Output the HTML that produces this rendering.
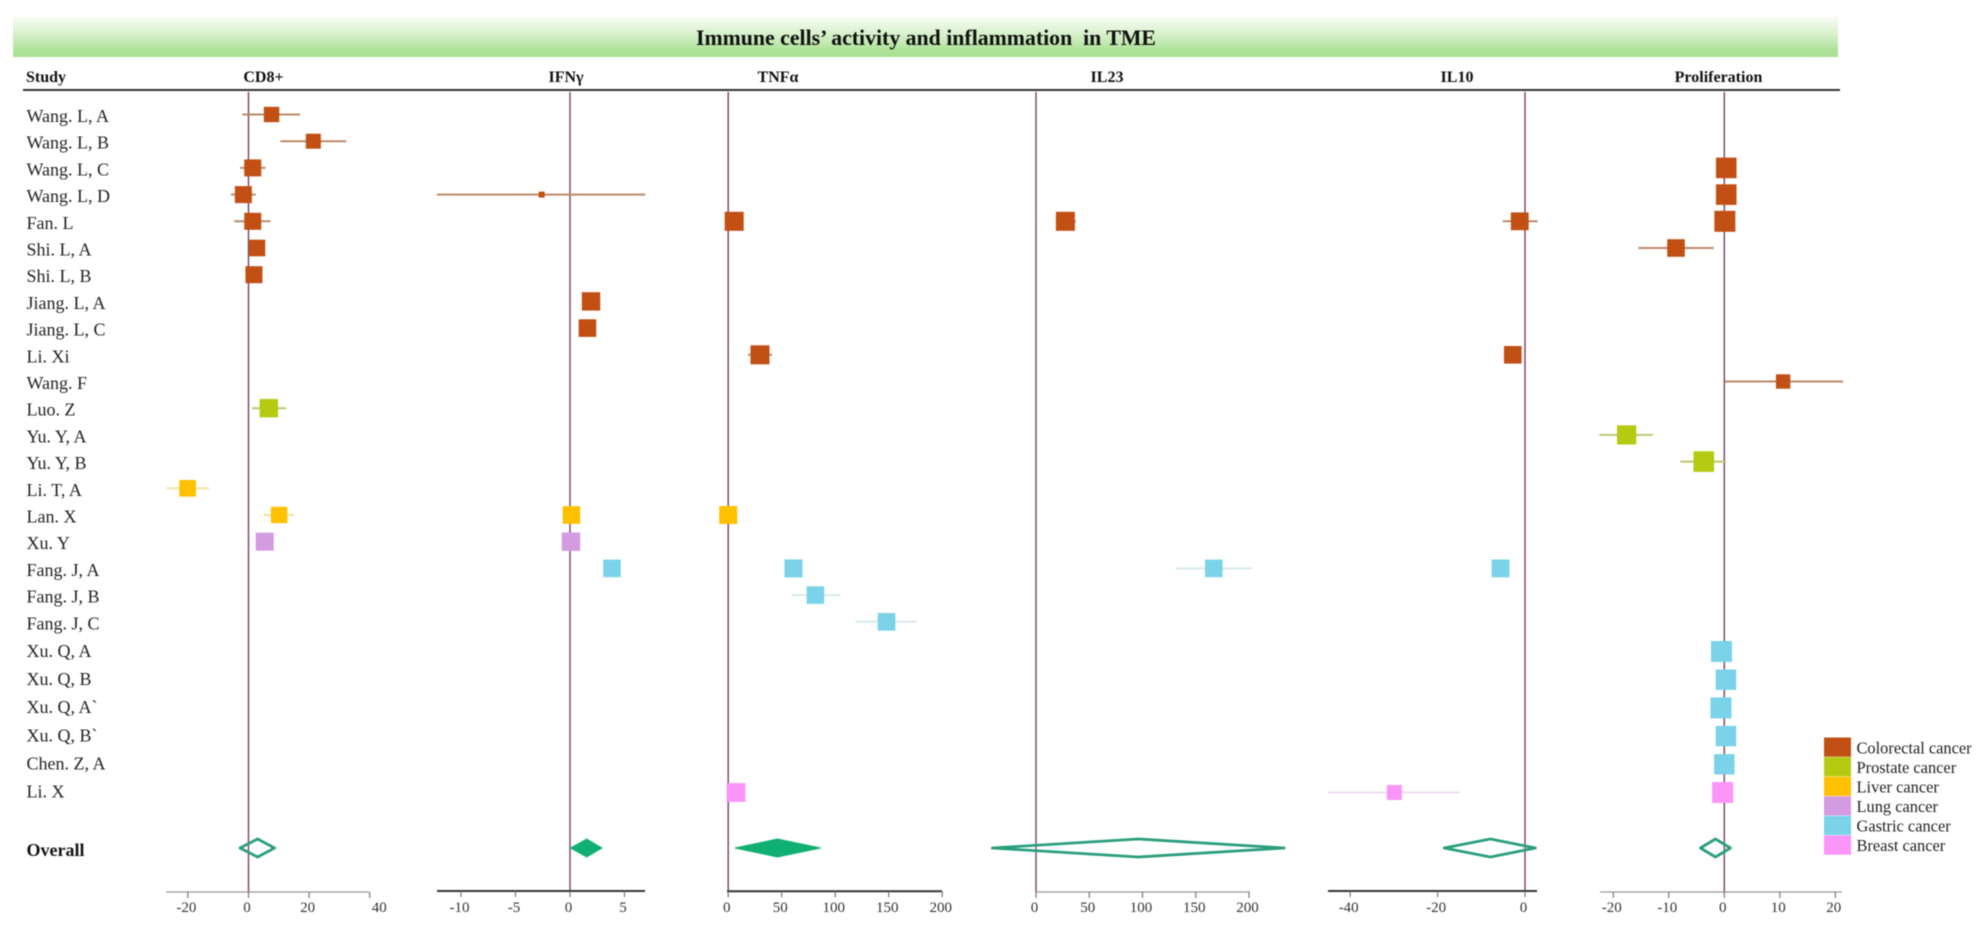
<!DOCTYPE html>
<html lang="en">
<head>
<meta charset="utf-8">
<title>Immune cells' activity and inflammation in TME</title>
<style>
html,body{margin:0;padding:0;background:#fff;}
body{width:1985px;height:928px;overflow:hidden;}
svg{display:block;filter:blur(0.45px);font-family:"Liberation Serif","Noto Serif CJK SC",serif;}
</style>
</head>
<body>
<svg id="chart" xmlns="http://www.w3.org/2000/svg" width="1985" height="928" viewBox="0 0 1985 928">
  <defs>
    <linearGradient id="bannerFill" x1="0" y1="0" x2="0" y2="1">
      <stop offset="0" stop-color="#f8fcf5"/>
      <stop offset="0.45" stop-color="#d6f0ca"/>
      <stop offset="0.85" stop-color="#ace296"/>
      <stop offset="1" stop-color="#a9e092"/>
    </linearGradient>
  </defs>
  <rect x="13" y="17" width="1825" height="40" fill="url(#bannerFill)"/>
  <text x="926" y="45" text-anchor="middle" font-size="21.8" font-weight="bold" fill="#111" xml:space="preserve">Immune cells’ activity and inflammation  in TME</text>
  <line x1="23" y1="90" x2="1840" y2="90" stroke="#333" stroke-width="2"/>
  <text x="26" y="82" font-size="16" font-weight="bold" fill="#111">Study</text>
  <text x="263.5" y="82" text-anchor="middle" font-size="16" font-weight="bold" fill="#111">CD8+</text>
  <text x="566" y="82" text-anchor="middle" font-size="16" font-weight="bold" fill="#111">IFNγ</text>
  <text x="778" y="82" text-anchor="middle" font-size="16" font-weight="bold" fill="#111">TNFα</text>
  <text x="1107" y="82" text-anchor="middle" font-size="16" font-weight="bold" fill="#111">IL23</text>
  <text x="1457" y="82" text-anchor="middle" font-size="16" font-weight="bold" fill="#111">IL10</text>
  <text x="1718.5" y="82" text-anchor="middle" font-size="16" font-weight="bold" fill="#111">Proliferation</text>
  <text x="26.5" y="856" font-size="18" font-weight="bold" fill="#111">Overall</text>
  <g id="rowLabels"></g>
  <g id="panels"></g>
  <g id="legend"></g>
</svg>
<script>
// ---------- Categories ----------
const studies = ["Wang. L, A","Wang. L, B","Wang. L, C","Wang. L, D","Fan. L","Shi. L, A","Shi. L, B","Jiang. L, A","Jiang. L, C","Li. Xi","Wang. F","Luo. Z","Yu. Y, A","Yu. Y, B","Li. T, A","Lan. X","Xu. Y","Fang. J, A","Fang. J, B","Fang. J, C","Xu. Q, A","Xu. Q, B","Xu. Q, A`","Xu. Q, B`","Chen. Z, A","Li. X"];
const cancerTypes = ["Colorectal cancer","Prostate cancer","Liver cancer","Lung cancer","Gastric cancer","Breast cancer"];
const studyCancer = [0,0,0,0,0,0,0,0,0,0,0,1,1,1,2,2,3,4,4,4,4,4,4,4,4,5];

// ---------- CD8+ ----------
const cd8Rows   = [0,1,2,3,4,5,6,11,14,15,16];
const cd8Mean   = [7.6,21.4,1.4,-1.7,1.4,2.8,1.8,6.7,-20.1,10.1,5.35];
const cd8Low    = [-2,10.5,-2.8,-5.8,-4.7,0.8,0,1.2,-27,4.9,3.5];
const cd8High   = [17,32.3,5.6,2.4,7.3,4.8,3.6,12.4,-13,15.2,7.2];
const cd8Weight = [7.7,7.5,8.5,8.5,8.5,8.3,8.5,9.2,8.3,8.2,9];
const cd8Ticks  = [-20,0,20,40];

// ---------- IFN-gamma ----------
const ifnRows   = [3,7,8,15,16,17];
const ifnMean   = [-2.6,1.93,1.6,0.13,0.09,3.85];
const ifnLow    = [-12.2,1.6,1.3,-0.2,-0.2,3.5];
const ifnHigh   = [6.9,2.3,1.9,0.5,0.4,4.2];
const ifnWeight = [3,9.2,8.8,8.8,9.2,8.8];
const ifnTicks  = [-10,-5,0,5];

// ---------- TNF-alpha ----------
const tnfRows   = [4,9,15,17,18,19,25];
const tnfMean   = [5.6,29.7,0,61,81.5,148,7.3];
const tnfLow    = [2,18.5,-3,57,59,119,4];
const tnfHigh   = [9,41,3,65,105,176,11];
const tnfWeight = [9.5,9.5,9,9,8.8,8.8,9.4];
const tnfTicks  = [0,50,100,150,200];

// ---------- IL23 ----------
const il23Rows   = [4,17];
const il23Mean   = [27.6,167];
const il23Low    = [18.5,131];
const il23High   = [37.5,203];
const il23Weight = [9.5,8.8];
const il23Ticks  = [0,50,100,150,200];

// ---------- IL10 ----------
const il10Rows   = [4,9,17,25];
const il10Mean   = [-1.2,-2.8,-5.6,-29.9];
const il10Low    = [-5.1,-3.5,-6.3,-45];
const il10High   = [2.9,-2.1,-4.9,-14.9];
const il10Weight = [8.9,8.8,8.9,7.5];
const il10Ticks  = [-40,-20,0];

// ---------- Proliferation ----------
const proRows   = [2,3,4,5,10,12,13,20,21,22,23,24,25];
const proMean   = [0.35,0.35,0.1,-8.7,10.6,-17.6,-3.7,-0.5,0.3,-0.6,0.3,0,-0.3];
const proLow    = [-0.5,-0.5,-0.7,-15.5,0.1,-22.5,-7.9,-1.2,-0.4,-1.3,-0.4,-0.7,-1];
const proHigh   = [1.2,1.2,0.9,-1.9,21.4,-12.9,0.3,0.2,1,0.1,1,0.7,0.4];
const proWeight = [10.3,10.3,10.5,8.8,7.2,9.6,10.3,10.5,10.2,10.5,10.2,10.2,10.5];
const proTicks  = [-20,-10,0,10,20];

// ---------- Pooled estimates (CD8+, IFNg, TNFa, IL23, IL10, Proliferation) ----------
const overallMean = [3,1.53,46,96,-7.9,-1.6];
const overallLow  = [-2.8,0.04,6.3,-41,-18.5,-4.3];
const overallHigh = [8.6,2.94,86.3,233,2.4,1.1];
const overallSignificant = [false,true,true,false,false,false];

// ---------- Layout & styles (not data) ----------
const cancerFill = {0:"#c24f14",1:"#b4cb12",2:"#ffc000",3:"#d49ce0",4:"#7ad3e8",5:"#fb95f8"};
const cancerWhisker = {0:"#bb8a68",1:"#bcc86a",2:"#f3e3a2",3:"#ecdcf0",4:"#d8eaee",5:"#f0dcf4"};
const panels = [
  {key:"cd8",  zero:248.5, scale:3.03,  left:166,  right:369,  axisY:892,   heavy:false, labelShift:{40:11}, rows:cd8Rows, mean:cd8Mean, low:cd8Low, high:cd8High, weight:cd8Weight, ticks:cd8Ticks},
  {key:"ifn",  zero:570,   scale:10.9,  left:437,  right:645,   axisY:891,   heavy:true,  labelShift:{}, rows:ifnRows, mean:ifnMean, low:ifnLow, high:ifnHigh, weight:ifnWeight, ticks:ifnTicks},
  {key:"tnf",  zero:728.2, scale:1.07,  left:727,  right:942,   axisY:891.3, heavy:true,  labelShift:{}, rows:tnfRows, mean:tnfMean, low:tnfLow, high:tnfHigh, weight:tnfWeight, ticks:tnfTicks},
  {key:"il23", zero:1036,  scale:1.065, left:1036, right:1250,  axisY:892,   heavy:false, labelShift:{}, rows:il23Rows, mean:il23Mean, low:il23Low, high:il23High, weight:il23Weight, ticks:il23Ticks},
  {key:"il10", zero:1525,  scale:4.37,  left:1328, right:1537,  axisY:891,   heavy:true,  labelShift:{}, rows:il10Rows, mean:il10Mean, low:il10Low, high:il10High, weight:il10Weight, ticks:il10Ticks},
  {key:"proliferation", zero:1724.3, scale:5.55, left:1600, right:1842, axisY:892, heavy:false, labelShift:{}, rows:proRows, mean:proMean, low:proLow, high:proHigh, weight:proWeight, ticks:proTicks}
];
const SVGNS = "http://www.w3.org/2000/svg";
const OVERALL_Y = 848;
function rowY(i){ return i < 20 ? 114.5 + 26.7 * i : 651.5 + 28.2 * (i - 20); }
function labelY(i){ return i < 20 ? 122 + 26.7 * i : 657 + 28.1 * (i - 20); }
function xAxis(p){ return function(v){ return p.zero + v * p.scale; }; }
function boxSize(w){ return w * 2; }
function make(tag, attrs, parent){
  const el = document.createElementNS(SVGNS, tag);
  for (const k in attrs) el.setAttribute(k, attrs[k]);
  parent.appendChild(el);
  return el;
}

// ---------- Study labels ----------
const rowLabelGroup = document.getElementById("rowLabels");
studies.forEach(function(name, i){
  const t = make("text", {x:26.5, y:labelY(i), "font-size":18, fill:"#222"}, rowLabelGroup);
  
  
  t.textContent = name;
});

// ---------- Panels ----------
const panelRoot = document.getElementById("panels");
panels.forEach(function(p, pi){
  const x = xAxis(p);
  const g = make("g", {}, panelRoot);
  
  

  const zeroLine = make("line", {x1:x(0), x2:x(0), y1:92, y2:p.axisY, stroke:"#7d3f5f", "stroke-width":1.4}, g);
  
  

  const axisColor = p.heavy ? "#333" : "#999";
  const axisWidth = p.heavy ? 2 : 1.2;
  const axis = make("line", {x1:p.left, x2:p.right, y1:p.axisY, y2:p.axisY, stroke:axisColor, "stroke-width":axisWidth}, g);
  
  

  p.ticks.forEach(function(v){
    const tick = make("line", {x1:x(v), x2:x(v), y1:p.axisY, y2:p.axisY + 6, stroke:"#777", "stroke-width":1.2}, g);
    
    
    const shift = p.labelShift[v] || 0;
    const lab = make("text", {x:x(v) - 1.5 + shift, y:912, "text-anchor":"middle", "font-size":15, fill:"#333"}, g);
    
    
    lab.textContent = String(v);
  });

  p.rows.forEach(function(row, j){
    const cancer = studyCancer[row];
    const y = rowY(row);
    const whisker = make("line", {x1:x(p.low[j]), x2:x(p.high[j]), y1:y, y2:y, stroke:cancerWhisker[cancer], "stroke-width":2}, g);
    
    
    const s = boxSize(p.weight[j]);
    const box = make("rect", {x:x(p.mean[j]) - s / 2, y:y - s / 2, width:s, height:s, fill:cancerFill[cancer]}, g);
    
    
  });

  const lo = x(overallLow[pi]);
  const hi = x(overallHigh[pi]);
  const mid = x(overallMean[pi]);
  const h = 9;
  const pts = [[lo,OVERALL_Y],[mid,OVERALL_Y - h],[hi,OVERALL_Y],[mid,OVERALL_Y + h]].map(function(q){ return q.join(","); }).join(" ");
  const filled = overallSignificant[pi];
  const diamond = make("polygon", {points:pts, fill:filled ? "#10b072" : "none", stroke:filled ? "#10b072" : "#2a9f7e", "stroke-width":filled ? 1 : 2.8, "stroke-linejoin":"round"}, g);
  
  
});

// ---------- Legend ----------
const legendRoot = document.getElementById("legend");
cancerTypes.forEach(function(name, i){
  const sw = make("rect", {x:1824, y:737.5 + 19.6 * i, width:27, height:19.2, fill:cancerFill[i]}, legendRoot);
  
  
  const t = make("text", {x:1856.5, y:753.5 + 19.5 * i, "font-size":16.4, fill:"#222"}, legendRoot);
  
  
  t.textContent = name;
});
</script>
</body>
</html>
